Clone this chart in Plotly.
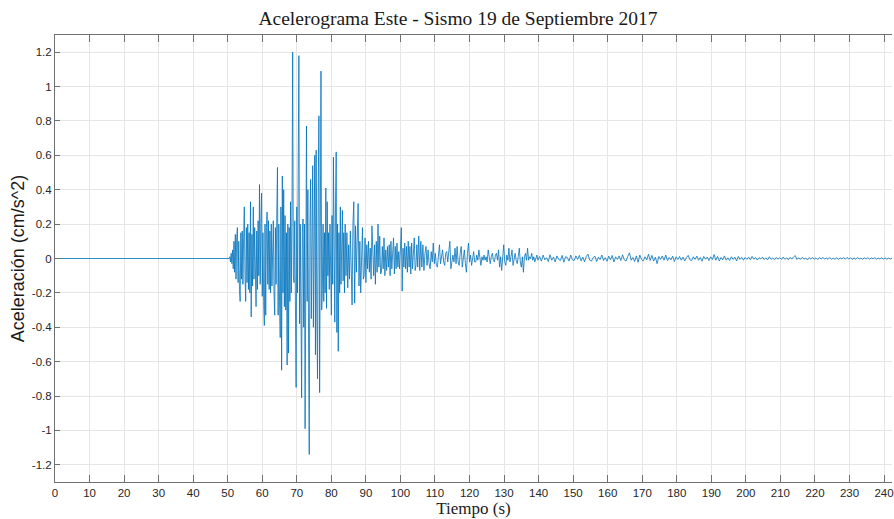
import numpy as np
import plotly.graph_objects as go

# ---------------- data ----------------
# quiet pre-event part
quiet_t = [0.0]
quiet_acc = [0.0]

# onset, sampled every 0.2 s from 50.4 s  (units: 0.01 cm/s^2)
onset_start, onset_step = 50.4, 0.2
onset_acc = [0, 1, -2, 3, -3, 5, -6, 10, -8, 14,
             -12, 12, 18, -14, 10, -18, -25, 15, -12, 16,
             -15, 12, 30, -10, -25, 18, -14, 20, -18, 15,
             -20, 33, -34, 14, -16, 30, -12, 18, -20, -28,
             16, -18, 22, -10, 43, -15, 20, 38, -22, 15,
             -25, -39, 20, -33, 18, 27, -15, 22, -18, 16,
             -20, 20, -16, 12, 22, -20, -33, 18, -15, 25,
             53, -33, 20, -25, -46, 30, -65, 48, -20]

# strong motion, every 0.2 s from 66.2 s (units: 0.01 cm/s^2)
strong_start, strong_step = 66.2, 0.2
strong_acc = [40, -28, 25, -30, 15, -62, 20, -55, 18, -25,
              33, -20, 25, 120, -10, -14, 22, -30, -75, 30,
              -20, 52, 118, -38, 20, -30, -81, 15, 23, -40,
              20, -99, 35, 77, -25, 40, -45, -114, 20, 46,
              -35, 25, 54, -40, 30, 60, -56, 63, -30, -70,
              40, 83, -78, 30, 109, -30, -18, 20, -25, 15,
              -20, 41, -29, 33, -10, 15, -18, 20, -25, -33,
              25, -15, 59, -20, -37, 30, 62, -43, 20, -54,
              15, -20, 30, -15, 10, 28, -13, 15, -20, 20]

# coda 1, every 0.25 s from 84.25 s (units: 0.01 cm/s^2)
coda1_start, coda1_step = 84.25, 0.25
coda1_acc = [-10, 15, -17, 8, -12, 16, -5, -27, 20, 33,
             -26, 19, -8, 12, 32, -16, 10, -20, 8, 18,
             -12, -10, 12, -14, 8, -6, 10, -8, 6, -12,
             19, -6, -10, 8, -15, 10, -8, 20, -5, 13,
             -9, -8, 7, -6, 12, -10, 5, -7, 7, -5,
             8, -10, 10, -6, 8, 12, -9, 7, -6, 9,
             -5, 4, -6, 7, 18, -19, 6, -5, 9, -6,
             7, -8, 10, -5, 7, -9, 9, -6, 4, 12,
             -7, -4, 8, -5]

# coda 2, every 0.3 s from 105.3 s (units: 0.01 cm/s^2)
coda2_start, coda2_step = 105.3, 0.3
coda2_acc = [13, -7, 10, -5, 8, -7, 3, 7, -4, 5,
             -3, -6, 4, -2, 9, -3, 3, -4, -5, 4,
             8, -3, 2, 5, -2, -4, 3, 4, -2, 3,
             10, -6, -3, 2, -2, 6, -3, 7, -2, -4,
             3, 7, -5, 2, 5, -3, -8, 3, 9, -2,
             2, -4, 1, 4, -2, -2, 2, -1, 5, -2,
             -4, 1, -1, 2, -1, 1, -2, 5, -1, -3,
             1, 3, -1, -2, 2, 3, -1, 5, -5, 1,
             -7, 2, 8, -2, -4, 2, -1, 6, -2, 1,
             5, -4, 1, 3, -1, -3, 1, 6, -2, -5,
             1, -8, 1, 3, -1, 6, -1, 1, 0, 3,
             -1, 1, -2, 1, 2, -1]

# tail, every 0.5 s from 140.3 s (units: 0.001 cm/s^2)
tail_start, tail_step = 140.3, 0.5
tail_acc = [12, -15, 20, -8, 5, -18, 22, -10, 8, -20, 15, -5, -12, 18, -22, 10, 6, -15, 20, -8,
            -12, 15, -5, 18, -14, 8, -20, 12, 25, -10, -15, 6, 14, -18, 8, -6, 20, -12, 5, -16,
            14, -8, 18, -20, 10, -5, 15, -12, 22, -8, -15, 12, 33, -10, 6, -18, 15, -22, 20, -6,
            -14, 10, -8, 25, -12, 18, -15, 8, -30, 12, -5, 15, -10, 20, -12, 6, -8, 14, -18, 10,
            -6, 12, -10, 8, -14, 6, 18, -8, -12, 10, -5, 14, -10, 6, -16, 12, -4, 8, -12, 10,
            -6, 23, -10, 12, -14, 6, -8, 15, -10, 4, -12, 10, -6, 8, -14, 12, -5, 7, -10, 6,
            -5, 8, -7, 12, -4, 6, -9, 5, -3, 8, -6, 4, -8, 10, -5, 3, -7, 6, -4, 5,
            -6, 8, -5, 4, -7, 6, -3, 9, 17, -6, 4, -5, 7, -4, 3, -8, 5, -3, 6, -5,
            4, -6, 5, -3, 7, -4, 3, -5, 6, -4, 2, -5, 4, -6, 3, -2, 5, -4, 6, -3,
            4, -5, 3, -4, 6, -3, 2, -5, 4, -3, 5, -4, 3, -2, 5, -4, 2, -3, 4, -3,
            3, -4, 2, -3, 2]

x_tick_vals = list(range(0, 250, 10))
x_tick_text = [str(v) for v in x_tick_vals]
y_tick_vals = [-1.2, -1.0, -0.8, -0.6, -0.4, -0.2, 0.0, 0.2, 0.4, 0.6, 0.8, 1.0, 1.2]
y_tick_text = ["-1.2", "-1", "-0.8", "-0.6", "-0.4", "-0.2", "0",
               "0.2", "0.4", "0.6", "0.8", "1", "1.2"]

title_text = "Acelerograma Este - Sismo 19 de Septiembre 2017"
x_title = "Tiempo (s)"
y_title = "Aceleración (cm/s^2)"


# ---------------- assemble series ----------------
def seg(start, step, vals, scale):
    tt = start + step * np.arange(len(vals))
    return tt, np.asarray(vals, dtype=float) / scale


parts = [
    (np.asarray(quiet_t), np.asarray(quiet_acc)),
    seg(onset_start, onset_step, onset_acc, 100.0),
    seg(strong_start, strong_step, strong_acc, 100.0),
    seg(coda1_start, coda1_step, coda1_acc, 100.0),
    seg(coda2_start, coda2_step, coda2_acc, 100.0),
    seg(tail_start, tail_step, tail_acc, 1000.0),
]
t = np.concatenate([p[0] for p in parts])
acc = np.concatenate([p[1] for p in parts])

# ---------------- figure ----------------
axis_col = "#707070"
grid_col = "#e6e6e6"
lab_col = "#262626"
sans = "Liberation Sans, Arial, sans-serif"
serif = "Liberation Serif, Times New Roman, serif"

fig = go.Figure()
fig.add_trace(go.Scatter(x=t, y=acc, mode="lines",
                         line=dict(color="#0072BD", width=0.8),
                         showlegend=False, hoverinfo="skip"))

fig.update_layout(
    width=894, height=519,
    margin=dict(l=55, r=0, t=35, b=37),
    paper_bgcolor="white", plot_bgcolor="white",
    title=dict(text=title_text, x=0.4815, xref="paper", xanchor="center",
               y=1 - 18 / 519, yref="container", yanchor="middle",
               font=dict(family=serif, size=19.5, color="#1a1a1a")),
    xaxis=dict(range=[0, 242.3], tickvals=x_tick_vals, ticktext=x_tick_text,
               ticks="inside", ticklen=7, tickcolor=axis_col, tickwidth=1,
               showline=True, linecolor=axis_col, linewidth=1, mirror="ticks",
               showgrid=True, gridcolor=grid_col, gridwidth=1, zeroline=False,
               ticklabeloverflow="allow",
               tickfont=dict(family=sans, size=11.5, color=lab_col),
               title=dict(text=x_title, standoff=3,
                          font=dict(family=serif, size=17, color="#1a1a1a"))),
    yaxis=dict(range=[-1.3, 1.3], tickvals=y_tick_vals, ticktext=y_tick_text,
               ticks="inside", ticklen=5, tickcolor=axis_col, tickwidth=1,
               showline=True, linecolor=axis_col, linewidth=1, mirror=False,
               showgrid=True, gridcolor=grid_col, gridwidth=1, zeroline=False,
               tickfont=dict(family=sans, size=11.5, color=lab_col),
               title=dict(text=y_title, standoff=2,
                          font=dict(family=sans, size=18, color="#1a1a1a"))),
)

fig.write_html("out.html")
